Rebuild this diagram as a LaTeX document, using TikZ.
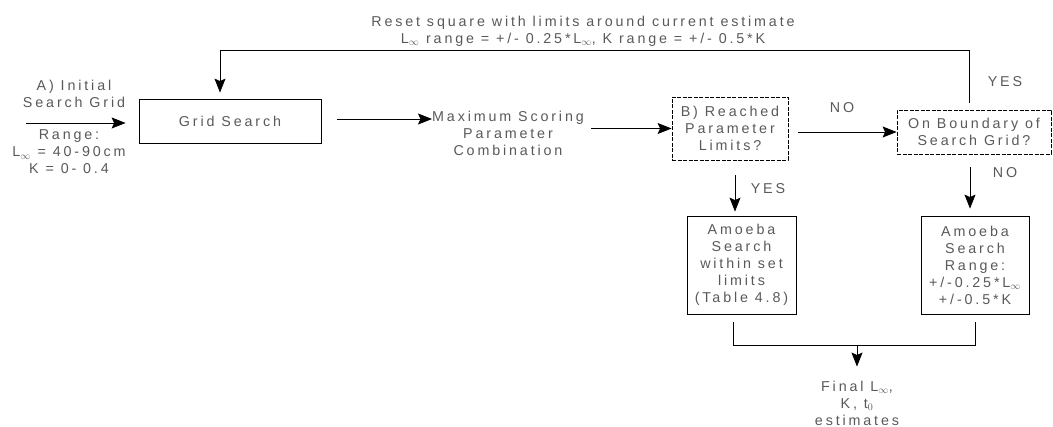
\documentclass[tikz,border=0pt]{standalone}
\usepackage{fontspec}
\setmainfont{Liberation Sans}[LetterSpace=20]
\usetikzlibrary{arrows.meta}
\begin{document}
\begin{tikzpicture}[x=1pt,y=-1pt,
  txt/.style={font=\fontsize{14.3}{17}\selectfont, text=black!65, align=center, inner sep=0pt},
  box/.style={txt, draw=black, line width=0.8pt, anchor=center},
  dbox/.style={box, dash pattern=on 4pt off 1.5pt},
  arr/.style={-{Stealth[length=14pt,width=11pt,inset=2.5pt]}, line width=0.8pt},
  ln/.style={line width=0.8pt}]
\useasboundingbox (0,0) rectangle (1053,427);
% text nodes
\node[txt] (top) at (583,31) {Reset square with limits around current estimate\\L$_\infty$ range = +/- 0.25*L$_\infty$, K range = +/- 0.5*K};
\node[txt] (initA) at (74,93.5) {A) Initial\\Search Grid};
\node[txt] (range) at (69,152) {Range:\\L$_\infty$ = 40-90cm\\K = 0- 0.4};
\node[txt] (max) at (508,133) {Maximum Scoring\\Parameter\\Combination};
\node[txt] (final) at (857,403) {Final L$_\infty$,\\K, t$_0$\\estimates};
% boxes
\node[box, minimum width=182pt, minimum height=44pt] (grid) at (230,121) {Grid Search};
\node[dbox, minimum width=116pt, minimum height=63pt] (reached) at (730,128.5) {B) Reached\\Parameter\\Limits?};
\node[dbox, minimum width=154pt, minimum height=44pt] (bound) at (974,132) {On Boundary of\\Search Grid?};
\node[box, minimum width=109pt, minimum height=98pt] (amL) at (741.5,265) {Amoeba\\Search\\within set\\limits\\(Table 4.8)};
\node[box, minimum width=108pt, minimum height=98pt] (amR) at (975,265) {Amoeba\\Search\\Range:\\+/-0.25*L$_\infty$\\+/-0.5*K};
% labels
\node[txt] (no1) at (842,108) {NO};
\node[txt] (yes1) at (1005,82) {YES};
\node[txt] (yes2) at (768,189) {YES};
\node[txt] (no2) at (1005,173) {NO};
% coordinates
\coordinate (inA) at (26,123);
\coordinate (lp) at (969,50);
\coordinate (lq) at (220,50);
\coordinate (yx) at (735,0);
\coordinate (nx) at (970,0);
\coordinate (m1) at (733,345);
\coordinate (m2) at (975,345);
\coordinate (mm) at (857,345);
% connectors
\draw[arr, shorten >=13pt] (inA) -- (inA -| grid.west);
\draw[arr, shorten <=16pt] ([yshift=2pt]grid.east) -- ([yshift=2pt]grid.east -| max.west);
\draw[arr, shorten <=7pt] (max.east |- reached.west) -- (reached.west);
\draw[arr, shorten <=10pt] (reached.east |- bound.west) -- (bound.west);
\draw[arr, shorten <=7pt, shorten >=6pt] (bound.north -| lp) -- (lp) -- (lq) -- (lq |- grid.north);
\draw[arr, shorten <=15pt, shorten >=4pt] (reached.south -| yx) -- (amL.north -| yx);
\draw[arr, shorten <=13pt, shorten >=7pt] (bound.south -| nx) -- (amR.north -| nx);
\draw[ln, shorten <=8pt, shorten >=8pt] (amL.south -| m1) -- (m1) -- (m2) -- (amR.south -| m2);
\draw[arr, shorten >=14pt] (mm) -- (final.north);
\end{tikzpicture}
\end{document}
